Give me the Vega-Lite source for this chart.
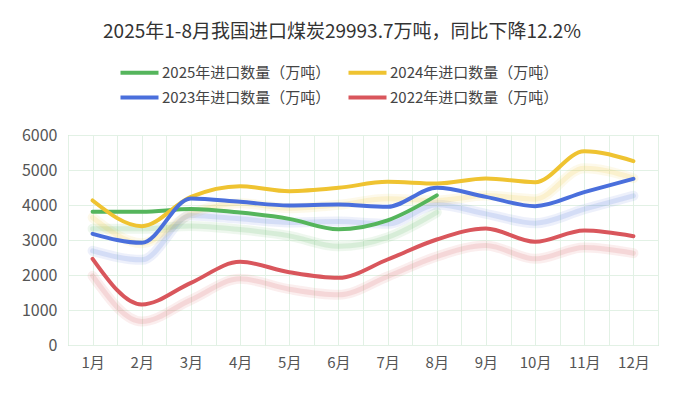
{
  "$schema": "https://vega.github.io/schema/vega-lite/v6.json",
  "width": 590,
  "height": 210,
  "autosize": {"type": "none"},
  "padding": {"left": 68, "top": 135, "right": 26, "bottom": 50},
  "background": "white",
  "title": {
    "text": "2025年1-8月我国进口煤炭29993.7万吨，同比下降12.2%",
    "anchor": "middle",
    "dx": -21,
    "offset": 19,
    "fontSize": 19,
    "fontWeight": "normal",
    "color": "#333333",
    "font": "Noto Sans CJK SC"
  },
  "config": {
    "font": "Noto Sans CJK SC",
    "view": {"stroke": "#a9d9b3", "strokeWidth": 1},
    "axis": {"labelFont": "Noto Sans CJK SC", "labelColor": "#555555", "labelFontSize": 15}
  },
  "data": {
    "values": [
      {"month": 1, "series": "2025年进口数量（万吨）", "value": 3806},
      {"month": 2, "series": "2025年进口数量（万吨）", "value": 3806},
      {"month": 3, "series": "2025年进口数量（万吨）", "value": 3884},
      {"month": 4, "series": "2025年进口数量（万吨）", "value": 3783},
      {"month": 5, "series": "2025年进口数量（万吨）", "value": 3604},
      {"month": 6, "series": "2025年进口数量（万吨）", "value": 3304},
      {"month": 7, "series": "2025年进口数量（万吨）", "value": 3561},
      {"month": 8, "series": "2025年进口数量（万吨）", "value": 4275},
      {"month": 1, "series": "2024年进口数量（万吨）", "value": 4129},
      {"month": 2, "series": "2024年进口数量（万吨）", "value": 3395},
      {"month": 3, "series": "2024年进口数量（万吨）", "value": 4234},
      {"month": 4, "series": "2024年进口数量（万吨）", "value": 4538},
      {"month": 5, "series": "2024年进口数量（万吨）", "value": 4395},
      {"month": 6, "series": "2024年进口数量（万吨）", "value": 4490},
      {"month": 7, "series": "2024年进口数量（万吨）", "value": 4662},
      {"month": 8, "series": "2024年进口数量（万吨）", "value": 4614},
      {"month": 9, "series": "2024年进口数量（万吨）", "value": 4757},
      {"month": 10, "series": "2024年进口数量（万吨）", "value": 4652},
      {"month": 11, "series": "2024年进口数量（万吨）", "value": 5538},
      {"month": 12, "series": "2024年进口数量（万吨）", "value": 5252},
      {"month": 1, "series": "2023年进口数量（万吨）", "value": 3176},
      {"month": 2, "series": "2023年进口数量（万吨）", "value": 2919},
      {"month": 3, "series": "2023年进口数量（万吨）", "value": 4186},
      {"month": 4, "series": "2023年进口数量（万吨）", "value": 4090},
      {"month": 5, "series": "2023年进口数量（万吨）", "value": 3986},
      {"month": 6, "series": "2023年进口数量（万吨）", "value": 4014},
      {"month": 7, "series": "2023年进口数量（万吨）", "value": 3948},
      {"month": 8, "series": "2023年进口数量（万吨）", "value": 4490},
      {"month": 9, "series": "2023年进口数量（万吨）", "value": 4233},
      {"month": 10, "series": "2023年进口数量（万吨）", "value": 3967},
      {"month": 11, "series": "2023年进口数量（万吨）", "value": 4367},
      {"month": 12, "series": "2023年进口数量（万吨）", "value": 4748},
      {"month": 1, "series": "2022年进口数量（万吨）", "value": 2462},
      {"month": 2, "series": "2022年进口数量（万吨）", "value": 1157},
      {"month": 3, "series": "2022年进口数量（万吨）", "value": 1776},
      {"month": 4, "series": "2022年进口数量（万吨）", "value": 2376},
      {"month": 5, "series": "2022年进口数量（万吨）", "value": 2081},
      {"month": 6, "series": "2022年进口数量（万吨）", "value": 1919},
      {"month": 7, "series": "2022年进口数量（万吨）", "value": 2443},
      {"month": 8, "series": "2022年进口数量（万吨）", "value": 3014},
      {"month": 9, "series": "2022年进口数量（万吨）", "value": 3329},
      {"month": 10, "series": "2022年进口数量（万吨）", "value": 2948},
      {"month": 11, "series": "2022年进口数量（万吨）", "value": 3271},
      {"month": 12, "series": "2022年进口数量（万吨）", "value": 3109}
    ]
  },
  "encoding": {
    "x": {
      "field": "month",
      "type": "quantitative",
      "scale": {"domain": [0.5, 12.5], "nice": false, "zero": false},
      "axis": {
        "title": null,
        "values": [0.5, 1, 1.5, 2, 2.5, 3, 3.5, 4, 4.5, 5, 5.5, 6, 6.5, 7, 7.5, 8, 8.5, 9, 9.5, 10, 10.5, 11, 11.5, 12, 12.5],
        "labelExpr": "datum.value % 1 == 0 ? datum.value + '月' : ''",
        "grid": true,
        "gridColor": "#e2f1e5",
        "gridWidth": 1,
        "domain": false,
        "ticks": false,
        "labelPadding": 10
      }
    },
    "y": {
      "field": "value",
      "type": "quantitative",
      "scale": {"domain": [0, 6000], "nice": false},
      "axis": {
        "title": null,
        "values": [0, 1000, 2000, 3000, 4000, 5000, 6000],
        "format": "d",
        "labelFontSize": 16,
        "grid": true,
        "gridColor": "#e2f1e5",
        "domain": false,
        "ticks": false,
        "labelPadding": 11
      }
    },
    "color": {
      "field": "series",
      "type": "nominal",
      "scale": {
        "domain": ["2025年进口数量（万吨）", "2024年进口数量（万吨）", "2023年进口数量（万吨）", "2022年进口数量（万吨）"],
        "range": ["#55b55c", "#efc331", "#4a6fdc", "#d9565c"]
      },
      "sort": null,
      "legend": {
        "orient": "none",
        "legendX": 60,
        "legendY": -74,
        "direction": "horizontal",
        "columns": 2,
        "title": null,
        "symbolType": "M-2,0H2",
        "symbolSize": 361,
        "symbolStrokeWidth": 4,
        "symbolOpacity": 1,
        "labelFontSize": 15,
        "labelColor": "#444444",
        "labelFont": "Noto Sans CJK SC",
        "labelLimit": 300,
        "labelOffset": 11,
        "rowPadding": 5,
        "columnPadding": 9
      }
    }
  },
  "layer": [
    {
      "mark": {"type": "line", "interpolate": "monotone", "strokeWidth": 10, "opacity": 0.1, "yOffset": 17, "strokeCap": "round"}
    },
    {
      "mark": {"type": "line", "interpolate": "monotone", "strokeWidth": 5, "opacity": 0.15, "yOffset": 17, "strokeCap": "round"}
    },
    {
      "mark": {"type": "line", "interpolate": "monotone", "strokeWidth": 4, "strokeCap": "round"}
    }
  ]
}
